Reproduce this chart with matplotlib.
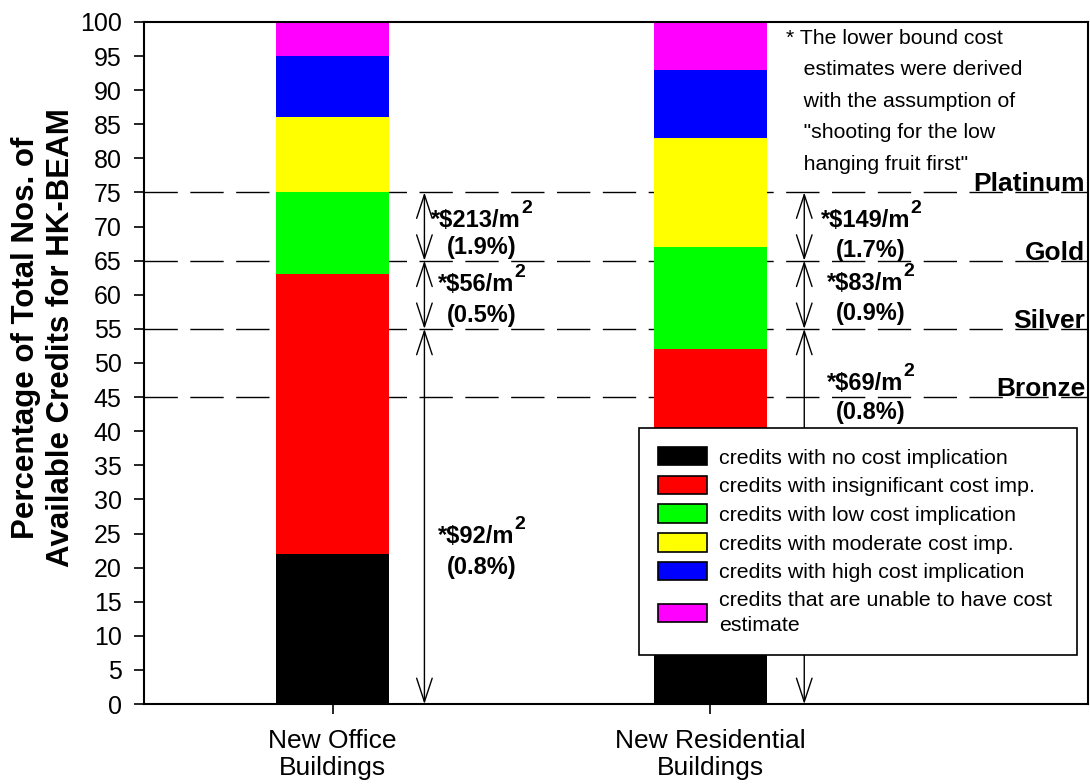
import matplotlib
matplotlib.use("Agg")
import matplotlib.pyplot as plt
from matplotlib.patches import Patch
from matplotlib.transforms import IdentityTransform

plt.rcParams['font.family'] = ['Liberation Sans', 'DejaVu Sans']

# ---------------- data ----------------
categories = ["New Office\nBuildings", "New Residential\nBuildings"]
no_cost = [22, 21]
insignificant = [41, 31]
low_cost = [12, 15]
moderate_cost = [11, 16]
high_cost = [9, 10]
unable = [5, 7]

series_labels = ["credits with no cost implication",
                 "credits with insignificant cost imp.",
                 "credits with low cost implication",
                 "credits with moderate cost imp.",
                 "credits with high cost implication",
                 "credits that are unable to have cost\nestimate"]
series_colors = ["#000000", "#ff0000", "#00ff00", "#ffff00", "#0000ff", "#ff00ff"]

levels = [75, 65, 55, 45]
level_names = ["Platinum", "Gold", "Silver", "Bronze"]

office_costs = ["*$213/m", "*$56/m", "*$92/m"]
office_pcts = ["(1.9%)", "(0.5%)", "(0.8%)"]
resid_costs = ["*$149/m", "*$83/m", "*$69/m"]
resid_pcts = ["(1.7%)", "(0.9%)", "(0.8%)"]
arrow_segments = [(75, 65), (65, 55), (55, 0)]

footnote = ('* The lower bound cost\n   estimates were derived\n   with the assumption of\n'
            '   "shooting for the low\n   hanging fruit first"')
ylabel = "Percentage of Total Nos. of\nAvailable Credits for HK-BEAM"

# ---------------- figure ----------------
fig = plt.figure(figsize=(10.9, 7.84), dpi=100)
ax = fig.add_axes([0.132, 0.102, 0.866, 0.870])

xpos = [1, 2]
series = [no_cost, insignificant, low_cost, moderate_cost, high_cost, unable]
bottom = [0, 0]
for vals, col, lab in zip(series, series_colors, series_labels):
    ax.bar(xpos, vals, width=0.30, bottom=bottom, color=col, edgecolor='none',
           zorder=2, label=lab)
    bottom = [b + v for b, v in zip(bottom, vals)]

# level dashed lines
for lv in levels:
    ax.axhline(lv, color='black', lw=1.0, dashes=(24, 9), zorder=1)

# level names
for lv, name in zip(levels, level_names):
    ax.text(2.993, lv + 0.15, name, ha='right', va='baseline', fontsize=19,
            fontweight='bold', zorder=3)

# arrows
arrow_x = [1.243, 2.249]
for ax_x in arrow_x:
    for top, bot in arrow_segments:
        ax.annotate('', xy=(ax_x, bot), xytext=(ax_x, top),
                    arrowprops=dict(arrowstyle='<->, head_length=0.85, head_width=0.28',
                                    lw=1.0, color='black', shrinkA=0, shrinkB=0,
                                    mutation_scale=20),
                    zorder=3)

ax.set_xlim(0.5, 3.0)
ax.set_ylim(0, 100)

# cost annotations (main text + raised superscript "2")
renderer = fig.canvas.get_renderer()
office_y = [(69.9, 66.0), (60.5, 56.0), (23.6, 19.0)]
resid_y = [(70.0, 65.6), (60.7, 56.3), (46.0, 41.8)]
for xc, costs, pcts, ys in [(1.394, office_costs, office_pcts, office_y),
                            (2.425, resid_costs, resid_pcts, resid_y)]:
    for c, p, (y1, y2) in zip(costs, pcts, ys):
        t_main = ax.text(0, 0, c.replace("$", r"\$"), fontsize=17, fontweight='bold',
                         ha='left', va='baseline', transform=IdentityTransform(), zorder=3)
        t_sup = ax.text(0, 0, "2", fontsize=14, fontweight='bold', ha='left',
                        va='baseline', transform=IdentityTransform(), zorder=3)
        w1 = t_main.get_window_extent(renderer).width
        w2 = t_sup.get_window_extent(renderer).width
        cx, cy = ax.transData.transform((xc, y1))
        x0 = cx - (w1 + w2) / 2
        t_main.set_position((x0, cy))
        t_sup.set_position((x0 + w1, cy + 14))
        ax.text(xc, y2, p, ha='center', va='baseline', fontsize=17,
                fontweight='bold', zorder=3)

# footnote
ax.text(2.2, 99.0, footnote, ha='left', va='top', fontsize=15.3, linespacing=1.83,
        zorder=3)

# axes styling
ax.set_yticks(range(0, 101, 5))
ax.set_xticks(xpos)
ax.set_xticklabels(categories, fontsize=19, linespacing=1.16)
ax.tick_params(axis='y', labelsize=18, direction='out', length=7, width=1.2, pad=9)
ax.tick_params(axis='x', direction='out', length=7, width=1.2, pad=11)
for sp in ax.spines.values():
    sp.set_linewidth(1.5)

fig.text(43.5 / 1090, 1 - 338 / 784, ylabel, rotation=90, ha='center', va='center',
         fontsize=22.5, fontweight='bold', linespacing=1.18, multialignment='center')

handles = [Patch(facecolor=c, edgecolor='black', lw=1.2) for c in series_colors]
leg = ax.legend(handles, series_labels, loc='upper left',
                bbox_to_anchor=(0.524, 0.075, 0.465, 0.33), mode='expand',
                fontsize=15.4, frameon=True, fancybox=False, framealpha=1,
                edgecolor='black', handlelength=2.3, handleheight=0.95,
                handletextpad=0.55, labelspacing=0.38, borderpad=0.9,
                borderaxespad=0)
leg.get_texts()[-1].set_linespacing(1.45)
leg.get_frame().set_linewidth(1.2)
leg.set_zorder(5)

fig.savefig("out.png", dpi=100)
